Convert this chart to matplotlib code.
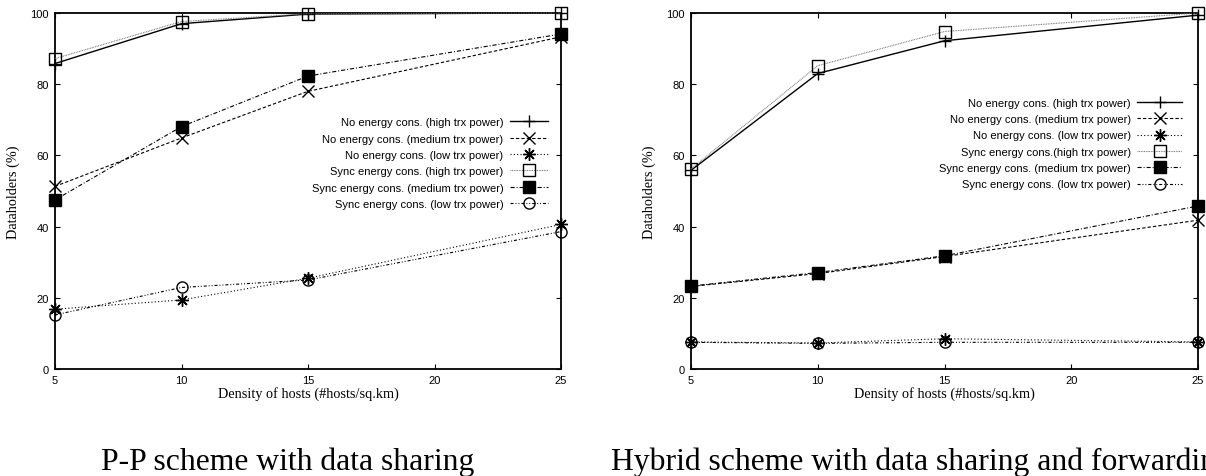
import matplotlib
matplotlib.use('Agg')
import matplotlib.pyplot as plt

plt.rcParams['font.family'] = ['Liberation Sans', 'DejaVu Sans']
plt.rcParams['lines.scale_dashes'] = False

# host density (#hosts/sq.km)
density = [5, 10, 15, 25]

# P-P scheme with data sharing
pp_no_high = [85.8, 97.0, 99.7, 100.0]
pp_no_med = [51.3, 64.9, 78.0, 93.3]
pp_no_low = [16.8, 19.4, 25.5, 40.6]
pp_sync_high = [87.2, 97.6, 99.8, 100.0]
pp_sync_med = [47.5, 68.1, 82.3, 94.1]
pp_sync_low = [15.2, 22.9, 25.0, 38.6]

# Hybrid scheme with data sharing and forwarding
hy_no_high = [55.8, 83.0, 92.2, 99.4]
hy_no_med = [23.2, 26.8, 31.6, 41.8]
hy_no_low = [7.6, 7.3, 8.5, 7.6]
hy_sync_high = [56.2, 85.2, 94.8, 100.0]
hy_sync_med = [23.3, 27.1, 31.8, 45.8]
hy_sync_low = [7.5, 7.2, 7.5, 7.5]

pp_labels = ['No energy cons. (high trx power)',
             'No energy cons. (medium trx power)',
             'No energy cons. (low trx power)',
             'Sync energy cons. (high trx power)',
             'Sync energy cons. (medium trx power)',
             'Sync energy cons. (low trx power)']
hy_labels = ['No energy cons. (high trx power)',
             'No energy cons. (medium trx power)',
             'No energy cons. (low trx power)',
             'Sync energy cons.(high trx power)',
             'Sync energy cons. (medium trx power)',
             'Sync energy cons. (low trx power)']

# gnuplot-like line types
styles = [
    dict(color='black', lw=1.0, ls='-', marker='+', ms=9, mew=1.0),
    dict(color='black', lw=0.8, ls=(0, (2.4, 1.5)), marker='x', ms=8, mew=1.0),
    dict(color='black', lw=0.8, ls=(0, (0.8, 1.6)), marker=(8, 2, 0), ms=9, mew=1.0),
    dict(color='#707070', lw=0.8, ls=(0, (0.6, 0.6)), marker='s', ms=8.5, mew=1.0,
         mec='black', mfc='none'),
    dict(color='black', lw=0.8, ls=(0, (3.0, 1.4, 0.7, 1.4)), marker='s', ms=8,
         mew=1.0, mec='black', mfc='black'),
    dict(color='black', lw=0.8, ls=(0, (2.2, 1.4, 0.7, 1.4, 0.7, 1.4)), marker='o',
         ms=8, mew=1.0, mec='black', mfc='none'),
]

W, H = 1206, 477
fig = plt.figure(figsize=(W / 100, H / 100), dpi=100)


def panel(rect, series, labels, leg_anchor, handlelen):
    ax = fig.add_axes(rect)
    for ys, lab, st in zip(series, labels, styles):
        ax.plot(density, ys, label=lab, clip_on=False, zorder=3, **st)
    ax.set_xlim(5, 25)
    ax.set_ylim(0, 100)
    ax.set_xticks([5, 10, 15, 20, 25])
    ax.set_yticks([0, 20, 40, 60, 80, 100])
    ax.tick_params(direction='in', length=3.6, width=0.8, top=True, right=True,
                   labelsize=8, pad=4.5)
    for sp in ax.spines.values():
        sp.set_linewidth(1.3)
    ax.set_xlabel('Density of hosts (#hosts/sq.km)', family='Liberation Serif', fontsize=10.3)
    ax.set_ylabel('Dataholders (%)', family='Liberation Serif', fontsize=10.3)
    ax.xaxis.set_label_coords(0.5, -0.048)
    ax.yaxis.set_label_coords(-0.07, 0.5)
    ax.legend(loc='upper right', bbox_to_anchor=leg_anchor, frameon=False,
              markerfirst=False, fontsize=8, borderpad=0, borderaxespad=0,
              labelspacing=0.57, handlelength=handlelen, handletextpad=0.6)
    return ax


panel([55 / W, 107 / H, 506 / W, 356 / H],
      [pp_no_high, pp_no_med, pp_no_low, pp_sync_high, pp_sync_med, pp_sync_low],
      pp_labels, (0.974, 0.707), 3.4)
panel([691 / W, 107 / H, 507 / W, 356 / H],
      [hy_no_high, hy_no_med, hy_no_low, hy_sync_high, hy_sync_med, hy_sync_low],
      hy_labels, (0.968, 0.762), 4.0)

fig.text(288 / W, 7 / H, 'P-P scheme with data sharing', family='Liberation Serif',
         fontsize=22.8, ha='center', va='baseline')
fig.text(611 / W, 7 / H, 'Hybrid scheme with data sharing and forwarding',
         family='Liberation Serif', fontsize=22.8, ha='left', va='baseline')

fig.savefig('out.png', dpi=100)
